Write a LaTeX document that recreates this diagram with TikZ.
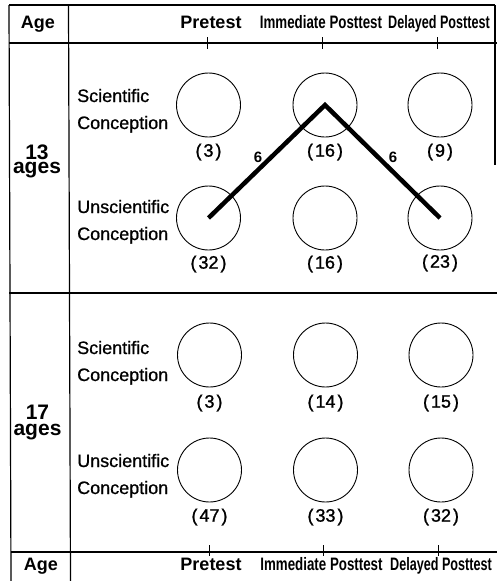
\documentclass[tikz,border=0pt]{standalone}
\usepackage{fontspec}
\setmainfont{Liberation Sans}
\usepackage{graphicx}
\begin{document}
\begin{tikzpicture}[x=1pt,y=-1pt,
  rule/.style={line width=1.2pt},
  tickmark/.style={line width=1pt},
  cell/.style={circle,draw,line width=0.9pt,minimum size=64pt,inner sep=0pt},
  cnt/.style={font=\fontsize{18}{18}\selectfont\addfontfeature{FakeBold=1.2},inner sep=0pt},
  lab/.style={font=\fontsize{18}{18}\selectfont\addfontfeature{FakeBold=0.8},inner sep=0pt,anchor=base west},
  agelab/.style={align=center,inner sep=0pt},
  head/.style={font=\fontsize{18}{18}\bfseries\selectfont,inner sep=0pt,anchor=base},
  link/.style={line width=4.5pt,line join=miter},
  wt/.style={font=\fontsize{15}{15}\bfseries\selectfont,inner sep=0pt}
]
\useasboundingbox (0,0) rectangle (497,581);
\newcommand{\cn}[1]{(\kern2pt#1\kern2pt)}
% frame
\draw[rule] (9,5) -- (495,5);
\draw[rule] (9,5) -- (11,581);
\draw[rule] (68.5,5) -- (70.5,581);
\draw[rule] (9,43) -- (497,43);
\draw[rule] (9,293) -- (497,293);
\draw[rule] (11,552) -- (497,552);
\draw[rule] (495,5) -- (495,165);
% ticks
\foreach \x in {207,322,437} \draw[tickmark] (\x,37) -- (\x,49);
\foreach \x in {209,323,438} \draw[tickmark] (\x,545) -- (\x,556);
% headers
\node[head] (hage) at (38,28) {Age};
\node[head] (hpre) at (211,28) {Pretest};
\node[head] (himm) at (321,28) {\scalebox{0.74}[1]{Immediate Posttest}};
\node[head] (hdel) at (439,28) {\scalebox{0.70}[1]{Delayed Posttest}};
\node[head] (fage) at (41,570) {Age};
\node[head] (fpre) at (211,570) {Pretest};
\node[head] (fimm) at (321.5,570) {\scalebox{0.74}[1]{Immediate Posttest}};
\node[head] (fdel) at (441,570) {\scalebox{0.70}[1]{Delayed Posttest}};
% age labels
\node[agelab,font=\fontsize{21}{14}\bfseries\selectfont] (a13) at (37,161.5) {13\\ages};
\node[agelab,font=\fontsize{21}{16}\bfseries\selectfont] (a17) at (37.5,422.5) {17\\ages};
% row labels
\node[lab] (r1a) at (77,102) {Scientific};
\node[lab] (r1b) at (77,129) {Conception};
\node[lab] (r2a) at (77,213) {Unscientific};
\node[lab] (r2b) at (77,240) {Conception};
\node[lab] (r3a) at (77,354) {Scientific};
\node[lab] (r3b) at (77,381) {Conception};
\node[lab] (r4a) at (77,467) {Unscientific};
\node[lab] (r4b) at (77,494) {Conception};
% circles
\node[cell] (s1) at (208.5,105) {};
\node[cell] (s2) at (325,105) {};
\node[cell] (s3) at (440,105) {};
\node[cell] (u1) at (208.5,218) {};
\node[cell] (u2) at (325,218) {};
\node[cell] (u3) at (440,218) {};
\node[cell] (t1) at (209.5,355) {};
\node[cell] (t2) at (325.5,355) {};
\node[cell] (t3) at (441,355) {};
\node[cell] (v1) at (209.5,470) {};
\node[cell] (v2) at (325.5,470) {};
\node[cell] (v3) at (441,470) {};
% counts
\node[cnt] (cs1) at (208.5,152) {\cn{3}};
\node[cnt] (cs2) at (325,152) {\cn{16}};
\node[cnt] (cs3) at (440,152) {\cn{9}};
\node[cnt] (cu1) at (208.5,264) {\cn{32}};
\node[cnt] (cu2) at (325,264) {\cn{16}};
\node[cnt] (cu3) at (440,263) {\cn{23}};
\node[cnt] (ct1) at (209.5,403) {\cn{3}};
\node[cnt] (ct2) at (325.5,403) {\cn{14}};
\node[cnt] (ct3) at (441,403) {\cn{15}};
\node[cnt] (cv1) at (209.5,517) {\cn{47}};
\node[cnt] (cv2) at (325.5,517) {\cn{33}};
\node[cnt] (cv3) at (441,517) {\cn{32}};
% transitions
\draw[link] (u1.center) -- (s2.center) -- (u3.center);
\node[wt] (w1) at (258,157) {6};
\node[wt] (w2) at (393,157) {6};
\end{tikzpicture}
\end{document}
